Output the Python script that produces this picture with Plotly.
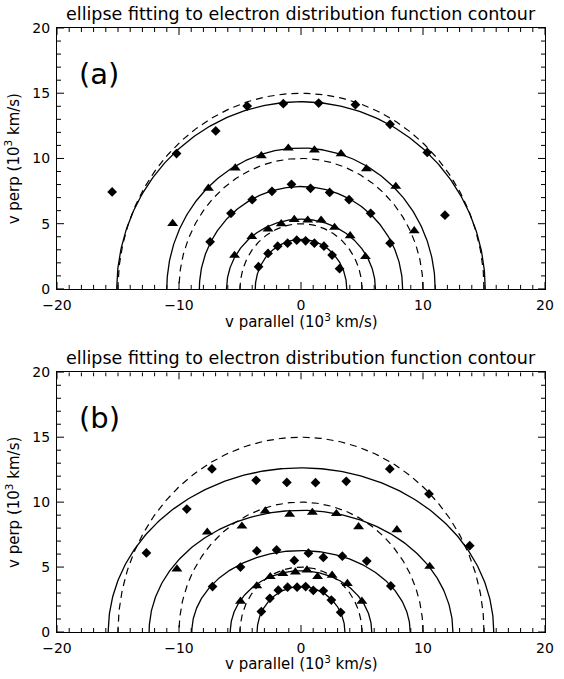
import numpy as np
import plotly.graph_objects as go

# ---------------- data ----------------
# fitted ellipse semi-axes (v parallel, v perp), in 10^3 km/s
a_fit_a = [3.75, 6.1, 8.33, 11.0, 15.1]
b_fit_a = [3.8, 5.35, 7.85, 10.8, 14.35]
a_fit_b = [3.6, 5.8, 8.95, 12.45, 15.8]
b_fit_b = [3.5, 4.72, 6.27, 9.37, 12.64]
# reference (isotropic) circles
ref_radii = [5, 10, 15]

# panel (a) contour points, inner -> outer
a1_x = [-3.48, -2.7, -1.91, -1.1, -0.35, 0.38, 1.1, 1.88, 2.55, 3.16]
a1_y = [1.7, 2.72, 3.28, 3.51, 3.74, 3.69, 3.51, 3.28, 2.6, 1.55]
a2_x = [-5.45, -4.03, -2.7, -1.62, -0.55, 0.55, 1.65, 2.75, 4.03, 5.28]
a2_y = [2.57, 4.0, 4.58, 4.99, 5.32, 5.27, 5.27, 4.71, 4.07, 2.47]
a3_x = [-7.45, -5.74, -4.0, -2.38, -0.78, 0.78, 2.35, 3.94, 5.71, 7.3]
a3_y = [3.61, 5.8, 6.84, 7.48, 8.02, 7.71, 7.4, 6.84, 5.8, 3.51]
a4_x = [-10.52, -7.59, -5.39, -3.25, -1.04, 1.1, 3.28, 5.36, 7.77, 9.28]
a4_y = [5.01, 7.71, 9.26, 10.2, 10.79, 10.64, 10.36, 9.21, 7.86, 4.45]
a5_x = [-15.48, -10.2, -6.99, -4.41, -1.45, 1.45, 4.46, 7.3, 10.35, 11.8]
a5_y = [7.43, 10.38, 12.11, 14.02, 14.2, 14.25, 14.12, 12.62, 10.46, 5.65]

# panel (b) contour points, inner -> outer
b1_x = [-3.25, -2.55, -1.86, -1.1, -0.32, 0.38, 1.01, 1.83, 2.49, 3.25]
b1_y = [1.57, 2.59, 3.22, 3.45, 3.45, 3.5, 3.2, 3.17, 2.46, 1.52]
b2_x = [-4.96, -3.62, -2.52, -1.48, -0.46, 0.49, 1.36, 2.55, 3.8, 4.99]
b2_y = [2.36, 3.55, 4.26, 4.49, 4.62, 4.77, 4.26, 4.37, 3.73, 2.36]
b3_x = [-7.25, -4.96, -3.62, -2.0, -0.55, 0.61, 1.83, 3.39, 5.39, 7.36]
b3_y = [3.5, 5.0, 6.24, 6.32, 5.51, 6.07, 5.74, 5.84, 5.46, 3.55]
b4_x = [-10.17, -7.68, -4.84, -2.93, -0.93, 0.93, 2.9, 4.72, 7.86, 10.55]
b4_y = [4.85, 7.69, 8.15, 9.31, 9.06, 9.21, 9.11, 8.1, 7.87, 5.05]
b5_x = [-12.67, -9.36, -7.3, -3.68, -1.16, 1.19, 3.71, 7.28, 10.49, 13.83]
b5_y = [6.09, 9.47, 12.56, 11.68, 11.52, 11.5, 11.6, 12.56, 10.63, 6.65]

x_range = [-20, 20]
y_range = [0, 20]
x_major = 10
y_major = 5
minor_step = 1
title_text = "ellipse fitting to electron distribution function contour"
xlabel = "v parallel (10<sup>3</sup> km/s)"
ylabel = "v perp (10<sup>3</sup> km/s)"

# ---------------- figure ----------------
FONT = "DejaVu Sans"
theta = np.linspace(0, np.pi, 241)
MAJOR_LEN, MINOR_LEN = 7, 4

fig = go.Figure()


def add_panel(xa, ya, afit, bfit, pts):
    for r in ref_radii:
        fig.add_trace(go.Scatter(x=r * np.cos(theta), y=r * np.sin(theta), mode="lines",
                                 line=dict(color="black", width=1.2, dash="7px,5px"),
                                 xaxis=xa, yaxis=ya))
    for a, b in zip(afit, bfit):
        fig.add_trace(go.Scatter(x=a * np.cos(theta), y=b * np.sin(theta), mode="lines",
                                 line=dict(color="black", width=1.3),
                                 xaxis=xa, yaxis=ya))
    for i, (px, py) in enumerate(pts):
        sym = "diamond" if i % 2 == 0 else "triangle-up"
        size = 7.5 if i % 2 == 0 else 9.5
        fig.add_trace(go.Scatter(x=px, y=py, mode="markers",
                                 marker=dict(symbol=sym, size=size, color="black"),
                                 xaxis=xa, yaxis=ya))


def add_ticks(xref, yref):
    """IDL-style inward ticks on all four sides, placed via the axis scales."""
    tl = dict(color="black", width=1)
    for v in np.arange(x_range[0], x_range[1] + 0.001, minor_step):
        ln = MAJOR_LEN if abs(v / x_major - round(v / x_major)) < 1e-9 else MINOR_LEN
        # bottom
        fig.add_shape(type="line", xref=xref, yref=yref, x0=v, x1=v,
                      ysizemode="pixel", yanchor=y_range[0], y0=0, y1=ln, line=tl, layer="above")
        # top
        fig.add_shape(type="line", xref=xref, yref=yref, x0=v, x1=v,
                      ysizemode="pixel", yanchor=y_range[1], y0=-ln, y1=0, line=tl, layer="above")
    for v in np.arange(y_range[0], y_range[1] + 0.001, minor_step):
        ln = MAJOR_LEN if abs(v / y_major - round(v / y_major)) < 1e-9 else MINOR_LEN
        # left
        fig.add_shape(type="line", xref=xref, yref=yref, y0=v, y1=v,
                      xsizemode="pixel", xanchor=x_range[0], x0=0, x1=ln, line=tl, layer="above")
        # right
        fig.add_shape(type="line", xref=xref, yref=yref, y0=v, y1=v,
                      xsizemode="pixel", xanchor=x_range[1], x0=-ln, x1=0, line=tl, layer="above")


add_panel("x", "y", a_fit_a, b_fit_a,
          [(a1_x, a1_y), (a2_x, a2_y), (a3_x, a3_y), (a4_x, a4_y), (a5_x, a5_y)])
add_panel("x2", "y2", a_fit_b, b_fit_b,
          [(b1_x, b1_y), (b2_x, b2_y), (b3_x, b3_y), (b4_x, b4_y), (b5_x, b5_y)])
add_ticks("x", "y")
add_ticks("x2", "y2")

ax_common = dict(showgrid=False, zeroline=False, showline=True, linecolor="black",
                 mirror=True, ticks="", ticklabelstandoff=3)

xdom = [0, 1]
top_dom = [0.568, 1.0]
bot_dom = [0.0, 0.430]

fig.update_layout(
    width=564, height=679,
    margin=dict(l=57, r=10, t=28, b=47),
    font=dict(family=FONT, size=14, color="black"),
    paper_bgcolor="white", plot_bgcolor="white",
    showlegend=False,
    xaxis=dict(**ax_common, domain=xdom, range=x_range, dtick=x_major, anchor="y"),
    yaxis=dict(**ax_common, domain=top_dom, range=y_range, dtick=y_major, anchor="x"),
    xaxis2=dict(**ax_common, domain=xdom, range=x_range, dtick=x_major, anchor="y2"),
    yaxis2=dict(**ax_common, domain=bot_dom, range=y_range, dtick=y_major, anchor="x2"),
)

ann = []
for ytitle, yx, ylab, panel, pdom in [(1.023, 0.515, 0.5 * (top_dom[0] + top_dom[1]), "(a)", top_dom),
                                      (0.4536, -0.051, 0.5 * (bot_dom[0] + bot_dom[1]), "(b)", bot_dom)]:
    ann.append(dict(text=title_text, x=0.5, y=ytitle, xref="paper", yref="paper",
                    showarrow=False, xanchor="center", yanchor="middle",
                    font=dict(size=17.5)))
    ann.append(dict(text=xlabel, x=0.5, y=yx, xref="paper", yref="paper",
                    showarrow=False, xanchor="center", yanchor="middle",
                    font=dict(size=15)))
    ann.append(dict(text=ylabel, x=-0.0905, y=ylab, xref="paper", yref="paper",
                    showarrow=False, xanchor="center", yanchor="middle", textangle=-90,
                    font=dict(size=15)))
    ann.append(dict(text=panel, x=0.04, y=pdom[1] - 0.045,
                    xref="paper", yref="paper", showarrow=False, xanchor="left", yanchor="top",
                    font=dict(size=29)))
fig.update_layout(annotations=ann)

fig.write_html("out.html")
